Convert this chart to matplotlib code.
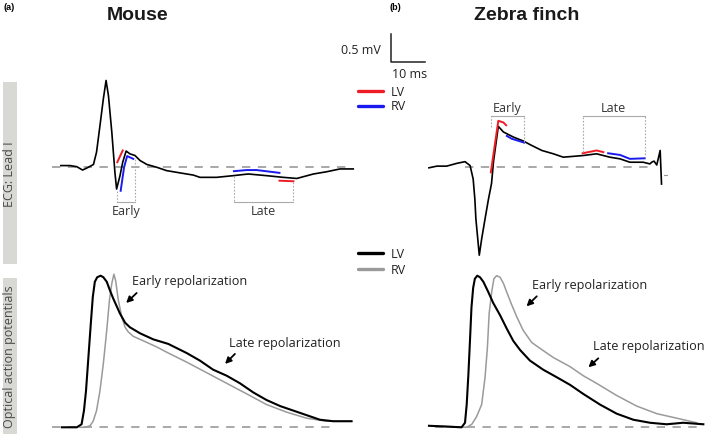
import matplotlib
matplotlib.use("Agg")
import matplotlib.pyplot as plt
from matplotlib.patches import Rectangle
from matplotlib.lines import Line2D

# ---------------- DATA ----------------
# Mouse ECG (Lead I): time (ms), amplitude (mV)
mouse_ecg_t = [2.6, 5.3, 7.3, 9.0, 10.7, 12.2, 13.1, 14.1, 15.1, 15.9, 16.6, 17.6, 18.5, 19.0,
               20.0, 20.8, 21.8, 22.9, 24.4, 25.9, 27.9, 30.8, 33.7, 37.6, 41.6, 43.5, 48.4,
               53.3, 57.7, 63.1, 68.0, 72.0, 76.9, 80.8, 84.7, 88.6]
mouse_ecg_mv = [0.02, 0.02, 0.0, -0.06, -0.01, 0.04, 0.26, 0.73, 1.21, 1.54, 1.27, 0.61, -0.10, -0.40,
                -0.16, 0.08, 0.28, 0.23, 0.20, 0.11, 0.04, -0.01, -0.07, -0.11, -0.15, -0.19, -0.19,
                -0.16, -0.13, -0.16, -0.19, -0.21, -0.13, -0.09, -0.04, -0.04]
mouse_lv_early_t = [19.2, 20.8]
mouse_lv_early_mv = [0.08, 0.29]
mouse_rv_early_t = [20.2, 21.2, 22.1, 23.9]
mouse_rv_early_mv = [-0.43, -0.01, 0.19, 0.14]
mouse_rv_late_t = [53.5, 57.3, 60.2, 66.9]
mouse_rv_late_mv = [-0.08, -0.06, -0.06, -0.11]
mouse_lv_late_t = [66.9, 71.0]
mouse_lv_late_mv = [-0.25, -0.26]
mouse_early_window = [19.2, 24.4]
mouse_late_window = [53.5, 71.0]

# Zebra finch ECG (Lead I)
finch_ecg_t = [-10.6, -8.3, -5.4, -2.4, 0.0, 1.5, 2.4, 2.9, 3.2, 4.2, 4.9, 5.9, 6.9, 7.8, 8.4, 9.8,
               11.3, 14.2, 17.1, 19.6, 22.6, 26.0, 28.9, 32.9, 34.8, 38.7, 42.6, 45.6, 48.5, 52.4,
               54.4, 54.9, 55.6, 56.4, 57.4, 57.8]
finch_ecg_mv = [-0.02, 0.01, 0.01, 0.06, 0.09, 0.02, -0.22, -0.58, -0.93, -1.58, -1.29, -0.93, -0.58,
                -0.30, 0.10, 0.72, 0.62, 0.53, 0.46, 0.38, 0.29, 0.23, 0.17, 0.19, 0.20, 0.23, 0.17,
                0.14, 0.08, 0.08, 0.05, 0.08, 0.10, 0.03, 0.29, -0.31]
finch_lv_early_t = [7.6, 9.8, 11.3, 12.1]
finch_lv_early_mv = [-0.10, 0.82, 0.79, 0.74]
finch_rv_early_t = [12.3, 13.7, 17.4]
finch_rv_early_mv = [0.55, 0.50, 0.43]
finch_lv_late_t = [34.6, 38.7, 40.7]
finch_lv_late_mv = [0.24, 0.29, 0.26]
finch_rv_late_t = [42.1, 45.6, 48.5, 52.9]
finch_rv_late_mv = [0.24, 0.21, 0.14, 0.15]
finch_early_window = [7.6, 17.4]
finch_late_window = [34.6, 52.9]

# Mouse optical action potentials (normalised)
mouse_lv_ap_t = [2.9, 7.3, 8.7, 9.4, 10.0, 10.7, 11.4, 12.0, 12.6, 13.3, 14.3, 15.1, 16.1, 17.1, 18.0,
                 19.0, 20.0, 21.5, 22.9, 25.9, 29.8, 34.2, 39.6, 43.5, 47.4, 51.4, 55.3, 59.2, 63.1,
                 67.1, 71.0, 74.9, 78.8, 82.7, 88.1]
mouse_lv_ap = [0.0, 0.0, 0.02, 0.11, 0.24, 0.46, 0.68, 0.86, 0.96, 0.99, 1.00, 0.99, 0.96, 0.90, 0.85,
               0.80, 0.75, 0.69, 0.66, 0.62, 0.58, 0.55, 0.49, 0.44, 0.38, 0.34, 0.29, 0.23, 0.18,
               0.14, 0.11, 0.08, 0.05, 0.04, 0.04]
mouse_rv_ap_t = [8.2, 9.7, 11.2, 12.1, 13.1, 14.1, 15.1, 16.1, 16.9, 17.6, 18.2, 18.7, 19.5, 20.5,
                 21.5, 22.4, 23.9, 26.9, 30.8, 34.2, 39.6, 45.5, 51.4, 57.3, 63.1, 69.0, 74.9, 80.8,
                 88.1]
mouse_rv_ap = [0.0, 0.0, 0.01, 0.04, 0.11, 0.24, 0.42, 0.64, 0.84, 0.95, 1.01, 0.97, 0.84, 0.73,
               0.66, 0.63, 0.60, 0.57, 0.53, 0.49, 0.43, 0.36, 0.29, 0.22, 0.15, 0.10, 0.06, 0.04,
               0.04]

# Zebra finch optical action potentials (normalised)
finch_lv_ap_t = [-10.6, -1.0, 0.0, 0.5, 1.0, 1.5, 1.9, 2.4, 2.9, 3.6, 4.4, 5.4, 6.9, 8.3, 10.3, 12.3,
                 14.2, 16.2, 19.1, 23.0, 27.0, 30.9, 34.8, 39.7, 44.6, 49.5, 54.4, 59.3, 64.2, 70.1]
finch_lv_ap = [0.01, 0.0, 0.03, 0.15, 0.35, 0.59, 0.79, 0.92, 0.98, 1.00, 0.99, 0.96, 0.89, 0.82, 0.74,
               0.65, 0.57, 0.51, 0.44, 0.38, 0.33, 0.28, 0.22, 0.15, 0.09, 0.05, 0.03, 0.02, 0.03,
               0.02]
finch_rv_ap_t = [-8.8, 0.5, 2.0, 3.4, 4.9, 5.9, 6.6, 7.1, 7.9, 8.5, 9.3, 10.3, 11.3, 12.3, 13.7, 15.2,
                 17.1, 19.6, 22.1, 26.0, 30.9, 34.8, 38.7, 44.6, 50.5, 56.4, 62.3, 68.1]
finch_rv_ap = [0.01, 0.0, 0.02, 0.07, 0.15, 0.33, 0.53, 0.75, 0.90, 0.98, 1.00, 0.99, 0.95, 0.89,
               0.81, 0.73, 0.64, 0.56, 0.52, 0.46, 0.40, 0.34, 0.29, 0.21, 0.14, 0.09, 0.06, 0.03]

mouse_ecg_baseline = [0.0, 86.8]
finch_ecg_baseline = [0.0, 54.4]
mouse_ap_baseline = [0.0, 81.8]
finch_ap_baseline = [-8.8, 70.0]

scale_ms = 10
scale_mv = 0.5

# ---------------- FIGURE ----------------
W, H = 709, 435
fig = plt.figure(figsize=(W / 100, H / 100), dpi=100)
FONT = ["Open Sans", "DejaVu Sans"]
plt.rcParams["font.family"] = FONT

PX_MS = 3.4      # px per ms
PX_MV = 56.0     # px per mV
PX_AP = 151.6    # px per normalised AP unit


def make_ax(x0, ybase, sx, sy, z=1):
    ax = fig.add_axes([0, 0, 1, 1], zorder=z)
    ax.set_xlim(-x0 / sx, (W - x0) / sx)
    ax.set_ylim(-(H - ybase) / sy, ybase / sy)
    ax.axis("off")
    ax.patch.set_alpha(0)
    return ax


ax_me = make_ax(52, 167.7, PX_MS, PX_MV, 2)
ax_fe = make_ax(465, 167.7, PX_MS, PX_MV, 3)
ax_ma = make_ax(52, 428.3, PX_MS, PX_AP, 4)
ax_fa = make_ax(465, 428.3, PX_MS, PX_AP, 5)

GRAY = "#9a9a9a"
RED = "#ee1c24"
BLUE = "#1a1aee"
DASH = dict(color=GRAY, lw=1.2, dashes=(5, 4.5))

# gray side labels
for (y0, y1, txt) in [(83, 265, "ECG: Lead I"), (279, 435, "Optical action potentials")]:
    fig.patches.append(Rectangle((3 / W, 1 - y1 / H), 14 / W, (y1 - y0) / H,
                                 transform=fig.transFigure, color="#d8d8d5", lw=0, zorder=0))
    fig.text(10 / W, 1 - (y0 + y1) / 2 / H, txt, rotation=90, ha="center", va="center",
             fontsize=9, color="#4a4a4a")

# titles
fig.text(3 / W, 1 - 8 / H, "(a)", fontsize=6.5, fontweight="bold", ha="left", va="center",
         family="Liberation Sans")
fig.text(389 / W, 1 - 7 / H, "(b)", fontsize=6.5, fontweight="bold", ha="left", va="center",
         family="Liberation Sans")
fig.text(137.5 / W, 1 - 15 / H, "Mouse", fontsize=14, fontweight="bold", ha="center", va="center",
         family="Liberation Sans", color="#1a1a1a")
fig.text(526.7 / W, 1 - 15 / H, "Zebra finch", fontsize=14, fontweight="bold", ha="center",
         va="center", family="Liberation Sans", color="#1a1a1a")

# ---- ECG panels ----
def ecg_panel(ax, t, mv, segs, early, late, base, text_y, bracket_y, tops_early, tops_late):
    ax.plot(base, [0, 0], **DASH)
    ax.plot(t, mv, color="black", lw=1.2, solid_joinstyle="round")
    for st, sv, c in segs:
        ax.plot(st, sv, color=c, lw=1.4)
    for win, tops, label in [(early, tops_early, "Early"), (late, tops_late, "Late")]:
        ax.plot(win, [bracket_y, bracket_y], color="#aaaaaa", lw=0.8)
        for x, top in zip(win, tops):
            ax.plot([x, x], [top, bracket_y], color="#aaaaaa", lw=0.8, ls=(0, (1.5, 1.5)))
        ax.text(sum(win) / 2, text_y, label, ha="center", va="center", fontsize=9,
                color="#333333")


ecg_panel(ax_me, mouse_ecg_t, mouse_ecg_mv,
          [(mouse_lv_early_t, mouse_lv_early_mv, RED), (mouse_rv_early_t, mouse_rv_early_mv, BLUE),
           (mouse_rv_late_t, mouse_rv_late_mv, BLUE), (mouse_lv_late_t, mouse_lv_late_mv, RED)],
          mouse_early_window, mouse_late_window, mouse_ecg_baseline, -0.79, -0.625,
          [-0.43, 0.14], [-0.16, -0.27])
ecg_panel(ax_fe, finch_ecg_t, finch_ecg_mv,
          [(finch_lv_early_t, finch_lv_early_mv, RED), (finch_rv_early_t, finch_rv_early_mv, BLUE),
           (finch_lv_late_t, finch_lv_late_mv, RED), (finch_rv_late_t, finch_rv_late_mv, BLUE)],
          finch_early_window, finch_late_window, finch_ecg_baseline, 1.06, 0.90,
          [0.71, 0.44], [0.26, 0.16])
ax_fe.plot([58.5, 59.3], [-0.15, -0.15], color=GRAY, lw=0.8)

# scale bar (drawn in mouse ECG data units)
sb_t, sb_v = 99.7, 1.87
ax_me.plot([sb_t, sb_t, sb_t + scale_ms], [sb_v + scale_mv, sb_v, sb_v], color="#222222", lw=1.1)
fig.text(381 / W, 1 - 50.7 / H, "0.5 mV", ha="right", va="center", fontsize=9, color="#222222")
fig.text(392.5 / W, 1 - 74.3 / H, "10 ms", ha="left", va="center", fontsize=9, color="#222222")

# legends
for y, c, lab in [(92, RED, "LV"), (107, BLUE, "RV"), (254, "black", "LV"), (270, GRAY, "RV")]:
    fig.lines.append(Line2D([358 / W, 383 / W], [1 - y / H, 1 - y / H], transform=fig.transFigure,
                            color=c, lw=2.4, solid_capstyle="round"))
    fig.text(391 / W, 1 - y / H, lab, ha="left", va="center", fontsize=9, color="#222222")

# ---- AP panels ----
def ap_panel(ax, lt, lv, rt, rv, base, ann):
    ax.plot(base, [0, 0], **DASH)
    ax.plot(rt, rv, color=GRAY, lw=1.1, solid_joinstyle="round")
    ax.plot(lt, lv, color="black", lw=1.5, solid_joinstyle="round")
    for txt, tx, ty, tail, head in ann:
        ax.text(tx, ty, txt, ha="left", va="center", fontsize=9.1, color="#222222")
        ax.annotate("", xy=head, xytext=tail,
                    arrowprops=dict(arrowstyle="-|>", color="black", lw=1.3, mutation_scale=9,
                                    shrinkA=0, shrinkB=0))


ap_panel(ax_ma, mouse_lv_ap_t, mouse_lv_ap, mouse_rv_ap_t, mouse_rv_ap, mouse_ap_baseline,
         [("Early repolarization", 23.4, 0.967, (24.9, 0.886), (21.8, 0.82)),
          ("Late repolarization", 52.1, 0.561, (53.8, 0.484), (50.9, 0.418))])
ap_panel(ax_fa, finch_lv_ap_t, finch_lv_ap, finch_rv_ap_t, finch_rv_ap, finch_ap_baseline,
         [("Early repolarization", 19.6, 0.945, (21.1, 0.864), (18.1, 0.798)),
          ("Late repolarization", 37.7, 0.538, (39.2, 0.455), (36.3, 0.396))])

fig.savefig("out.png", dpi=100)
